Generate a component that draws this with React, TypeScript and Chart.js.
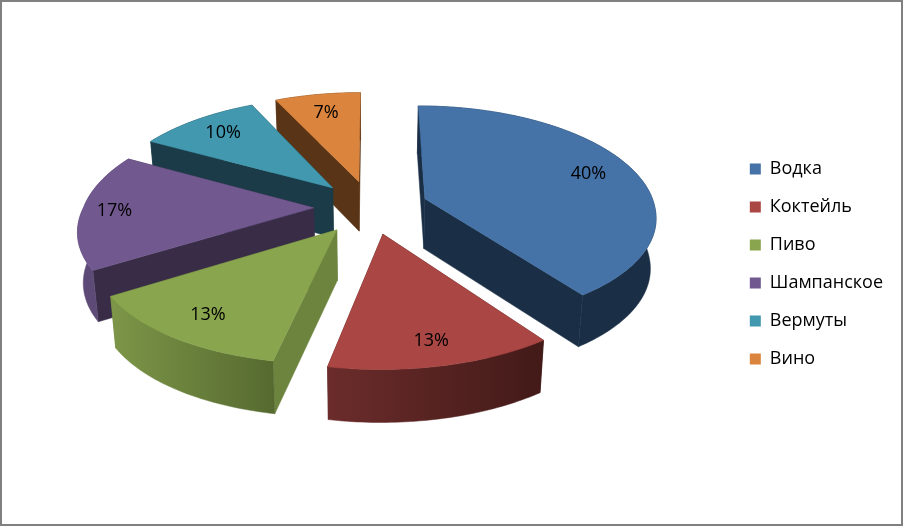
import React, { useEffect, useRef } from "react";
import { Chart, registerables } from "chart.js";

Chart.register(...registerables);

const categories = ["Водка", "Коктейль", "Пиво", "Шампанское", "Вермуты", "Вино"];
const shares = [40, 13, 13, 17, 10, 7];

const topColors = ["#4572A7", "#AA4643", "#89A54E", "#71588F", "#4198AF", "#DB843D"];
const wallColors = ["#1A2E46", "#431A18", "#6D843E", "#382C47", "#1A3B47", "#5A3416"];
const rimLeftColors = ["#1A2E46", "#6B2C2B", "#7D9648", "#5E4A77", "#1A3B47", "#5A3416"];
const rimRightColors = ["#1A2E46", "#421A18", "#566A30", "#5E4A77", "#1A3B47", "#5A3416"];
const labelReach = [0.79, 0.83, 0.81, 0.86, 0.79, 0.77];

const FONT = '"Open Sans", sans-serif';
const View = { cx: 371, cy: 207, rx: 230, ry: 108, depth: 50, persp: 0.14, taper: 0.02, skew: -4.5, spread: 6 };

function project(wx: number, wy: number, z: number) {
  const s = 1 / (1 - View.persp * wy);
  const lens = Math.max(0, wy) * (View.skew + View.spread * wx);
  return {
    x: View.cx + View.rx * wx * s * (1 - View.taper * z) + lens,
    y: View.cy + View.ry * wy * s + View.depth * z * Math.pow(s, 0.3),
  };
}

function poly(ctx: CanvasRenderingContext2D, pts: { x: number; y: number }[], fill: string | CanvasGradient) {
  ctx.beginPath();
  pts.forEach((p, i) => (i ? ctx.lineTo(p.x, p.y) : ctx.moveTo(p.x, p.y)));
  ctx.closePath();
  ctx.fillStyle = fill;
  ctx.fill();
  ctx.strokeStyle = fill;
  ctx.lineWidth = 0.5;
  ctx.stroke();
}

const pie3d = {
  id: "pie3d",
  beforeDatasetsDraw(chart: any) {
    const ctx: CanvasRenderingContext2D = chart.ctx;
    const meta = chart.getDatasetMeta(0);
    const slices = meta.data.map((arc: any, i: number) => {
      const start = arc.startAngle;
      const end = arc.endAngle;
      const mid = (start + end) / 2;
      const d = arc.options.offset / arc.outerRadius;
      return { i, start, end, mid, ax: d * Math.cos(mid), ay: d * Math.sin(mid) };
    });
    slices.sort((a: any, b: any) => Math.sin(a.mid) - Math.sin(b.mid));

    for (const s of slices) {
      const n = Math.max(2, Math.ceil(((s.end - s.start) * 180) / Math.PI));
      const rim: { wx: number; wy: number }[] = [];
      for (let k = 0; k <= n; k++) {
        const a = s.start + ((s.end - s.start) * k) / n;
        rim.push({ wx: s.ax + Math.cos(a), wy: s.ay + Math.sin(a) });
      }
      const top = rim.map((p) => project(p.wx, p.wy, 0));
      const bottom = rim.map((p) => project(p.wx, p.wy, 1));
      const apexTop = project(s.ax, s.ay, 0);
      const apexBottom = project(s.ax, s.ay, 1);

      poly(ctx, [apexTop, top[0], bottom[0], apexBottom], wallColors[s.i]);
      poly(ctx, [apexTop, top[n], bottom[n], apexBottom], wallColors[s.i]);

      const xs = top.map((p) => p.x);
      const grad = ctx.createLinearGradient(Math.min(...xs), 0, Math.max(...xs), 0);
      grad.addColorStop(0, rimLeftColors[s.i]);
      grad.addColorStop(1, rimRightColors[s.i]);
      poly(ctx, [...top, ...bottom.slice().reverse()], grad);

      poly(ctx, [apexTop, ...top], topColors[s.i]);
    }

    const total = shares.reduce((a, b) => a + b, 0);
    ctx.fillStyle = "#000";
    ctx.font = `18px ${FONT}`;
    ctx.textAlign = "center";
    ctx.textBaseline = "middle";
    for (const s of slices) {
      const t = labelReach[s.i];
      const p = project(s.ax + t * Math.cos(s.mid), s.ay + t * Math.sin(s.mid), 0);
      ctx.fillText(`${Math.round((shares[s.i] / total) * 100)}%`, p.x, p.y);
    }
    return false;
  },
  afterDraw(chart: any) {
    const ctx: CanvasRenderingContext2D = chart.ctx;
    ctx.save();
    ctx.strokeStyle = "#808080";
    ctx.lineWidth = 2;
    ctx.strokeRect(1, 1, chart.width - 2, chart.height - 2);
    ctx.restore();
  },
};

export default function App() {
  const ref = useRef<HTMLCanvasElement>(null);
  useEffect(() => {
    const chart = new Chart(ref.current!, {
      type: "pie",
      data: {
        labels: categories,
        datasets: [{ data: shares, backgroundColor: topColors, borderWidth: 0, offset: 58 }],
      },
      options: {
        animation: false,
        responsive: false,
        devicePixelRatio: 1,
        layout: { padding: { top: 2, right: 10 } },
        plugins: {
          tooltip: { enabled: false },
          legend: {
            position: "right",
            labels: {
              boxWidth: 11,
              boxHeight: 11,
              padding: 20,
              color: "#000",
              font: { family: FONT, size: 18 },
            },
          },
        },
      },
      plugins: [pie3d],
    } as any);
    return () => chart.destroy();
  }, []);
  return (
    <canvas
      ref={ref}
      width={903}
      height={526}
      style={{ position: "absolute", left: 0, top: 0, display: "block" }}
    />
  );
}
